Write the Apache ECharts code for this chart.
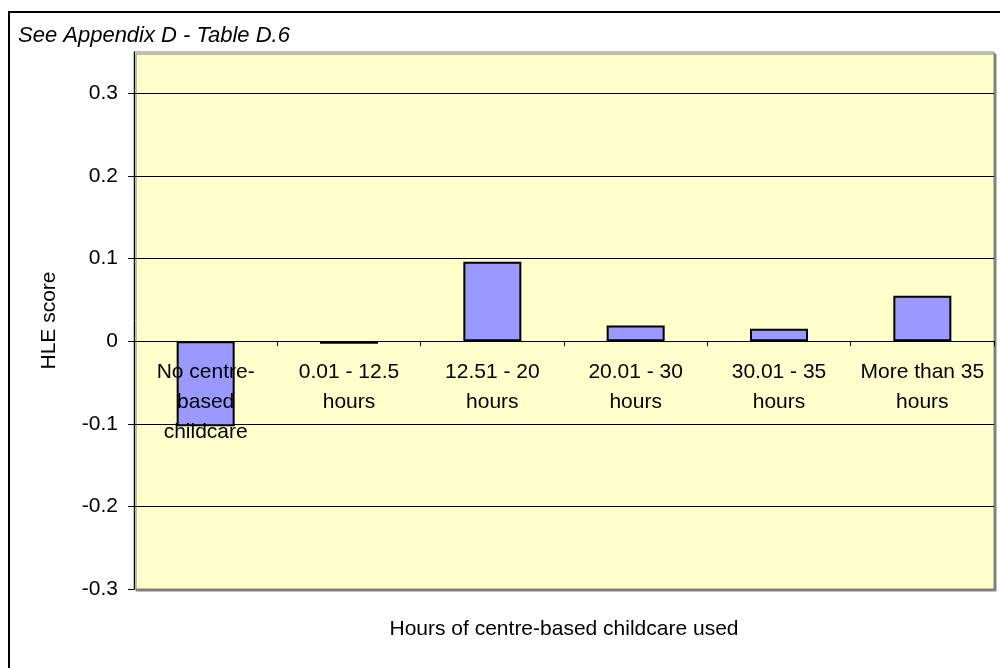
<!DOCTYPE html>
<html>
<head>
    <meta charset="utf-8" />
    <title>HLE score by hours of centre-based childcare</title>
    <script src="https://cdn.jsdelivr.net/npm/echarts@6/dist/echarts.min.js"></script>
    <style>
        html, body { margin: 0; padding: 0; background: #fff; }
        #container { width: 1000px; height: 668px; }
    </style>
</head>
<body>
    <div id="container"></div>
    <script>
        var categories = ['No centre-\nbased\nchildcare', '0.01 - 12.5\nhours', '12.51 - 20\nhours',
            '20.01 - 30\nhours', '30.01 - 35\nhours', 'More than 35\nhours'];
        var hleScores = [-0.103, -0.003, 0.096, 0.019, 0.015, 0.055];

        var font = 'Liberation Sans, Arial, sans-serif';
        var myChart = echarts.init(document.getElementById('container'));
        var option = {
            animation: false,
            title: {
                text: 'See Appendix D - Table D.6',
                left: 13,
                top: 20,
                textStyle: { fontFamily: font, fontSize: 22, fontStyle: 'italic', fontWeight: 'normal', color: '#000' }
            },
            graphic: [
                {
                    type: 'rect',
                    shape: { x: 9, y: 12, width: 1000, height: 700 },
                    style: { fill: 'none', stroke: '#000', lineWidth: 2 },
                    silent: true
                },
                {
                    type: 'text',
                    x: 564,
                    y: 629,
                    style: {
                        text: 'Hours of centre-based childcare used',
                        fontFamily: font, fontSize: 21, fill: '#000',
                        textAlign: 'center', textVerticalAlign: 'middle'
                    },
                    silent: true
                }
            ],
            grid: {
                left: 134, right: 6, top: 52, bottom: 79,
                outerBoundsMode: 'none',
                containLabel: false,
                show: true,
                backgroundColor: '#FFFFCC',
                borderColor: '#808080',
                borderWidth: 1,
                shadowColor: '#808080',
                shadowOffsetX: 2,
                shadowOffsetY: 2,
                shadowBlur: 0
            },
            xAxis: {
                type: 'category',
                data: categories,
                z: 10,
                axisLine: { onZero: true, lineStyle: { color: '#000', width: 1 } },
                axisTick: { show: true, length: 5, lineStyle: { color: '#000' } },
                axisLabel: {
                    // labels sit just under the zero line, like the original
                    interval: 0, margin: -232, lineHeight: 30,
                    fontFamily: font, fontSize: 21, color: '#000'
                }
            },
            yAxis: {
                type: 'value',
                min: -0.3,
                max: 0.35,
                interval: 0.1,
                name: 'HLE score',
                nameLocation: 'middle',
                nameRotate: 90,
                nameGap: 74,
                nameTextStyle: { fontFamily: font, fontSize: 21, color: '#000' },
                axisLine: { show: true, lineStyle: { color: '#000' } },
                axisTick: { show: true, length: 6, lineStyle: { color: '#000' } },
                axisLabel: { showMaxLabel: false, margin: 16, fontFamily: font, fontSize: 21, color: '#000' },
                splitLine: { show: true, showMaxLine: false, showMinLine: false, lineStyle: { color: '#000', width: 1 } }
            },
            series: [
                {
                    type: 'bar',
                    data: hleScores,
                    barWidth: 58,
                    itemStyle: { color: '#9999FF', borderColor: '#000', borderWidth: 2 }
                }
            ]
        };
        myChart.setOption(option);
    </script>
</body>
</html>
